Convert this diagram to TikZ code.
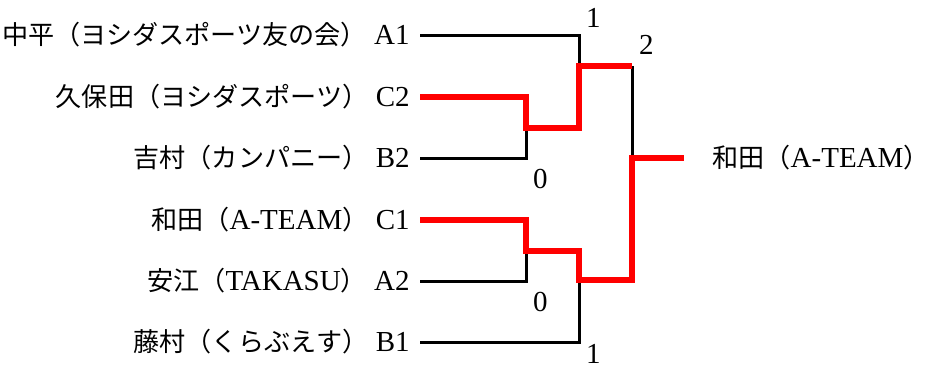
\documentclass[tikz,border=0pt]{standalone}
\usepackage{fontspec}
\setmainfont{Liberation Serif}
\newfontfamily\jp{Noto Sans CJK JP}[Scale=0.9]
\tikzset{
    win/.style={line width=3pt, red},
    lose/.style={line width=1.5pt, black},
    player/.style={anchor=east, inner ysep=0pt, inner xsep=5pt},
}

\begin{document}
\begin{tikzpicture}[x=0.5pt, y=-0.5pt, font=\fontsize{14.5}{17}\selectfont]
            \useasboundingbox (0,0) rectangle (929,370);
            % players
            \node[player] (a1) at (420,35) {{\jp 中平（ヨシダスポーツ友の会）}\ A1};
            \node[player] (c2) at (420,97) {{\jp 久保田（ヨシダスポーツ）}\ C2};
            \node[player] (b2) at (420,158) {{\jp 吉村（カンパニー）}\ B2};
            \node[player] (c1) at (420,220) {{\jp 和田（}A-TEAM{\jp ）}\ C1};
            \node[player] (a2) at (420,281) {{\jp 安江（}TAKASU{\jp ）}\ A2};
            \node[player] (b1) at (420,342) {{\jp 藤村（くらぶえす）}\ B1};
            \node[anchor=west, inner xsep=14pt] (champ) at (684,158) {{\jp 和田（}A-TEAM{\jp ）}};
            % joins
            \coordinate (j1) at (526,128);
            \coordinate (j2) at (526,251);
            \coordinate (k1) at (579,66);
            \coordinate (k2) at (579,280);
            \coordinate (f) at (632,158);
            % losers
            \draw[lose] (a1.east) -| (k1);
            \draw[lose] (b2.east) -| (j1);
            \draw[lose] (a2.east) -| (j2);
            \draw[lose] (b1.east) -| (k2);
            \draw[lose] (k1 -| f) -- (f);
            % winners
            \draw[win] (c2.east) -| (j1) -| (k1) -- (k1 -| f);
            \draw[win] (c1.east) -| (j2) -| (k2) -| (f) -- (champ.west);
            % scores
            \node[above right] at (a1.east -| k1) {1};
            \node[above right, yshift=2pt] at (k1 -| f) {2};
            \node[below right, yshift=-2pt] at (b2.east -| j1) {0};
            \node[below right, yshift=-2pt] at (a2.east -| j2) {0};
            \node[below right, inner ysep=1pt] at (b1.east -| k2) {1};
        \end{tikzpicture}
\end{document}
